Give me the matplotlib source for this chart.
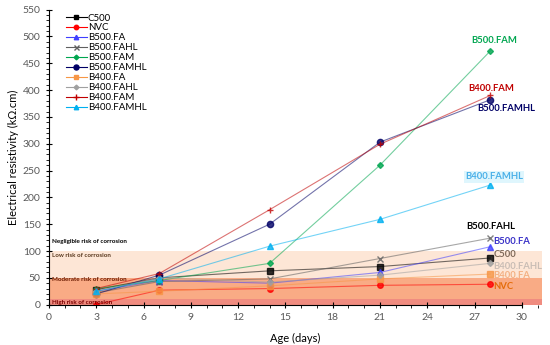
import numpy as np
import matplotlib
matplotlib.use("Agg")
import matplotlib.pyplot as plt
from matplotlib.ticker import MultipleLocator

plt.rcParams['font.family'] = ['Lato', 'DejaVu Sans']

# --- data ------------------------------------------------------------------
age = [3, 7, 14, 21, 28]

c500 = [28, 50, 63, 71, 87]
nvc = [0, 27, 30, 36, 38]
b500_fa = [25, 45, 40, 60, 108]
b500_fahl = [22, 43, 48, 86, 124]
b500_fam = [30, 45, 77, 260, 473]
b500_famhl = [20, 55, 150, 303, 382]
b400_fa = [20, 25, 35, 48, 57]
b400_fahl = [25, 50, 42, 55, 77]
b400_fam = [30, 58, 177, 299, 390]
b400_famhl = [25, 48, 109, 159, 223]

names = ["C500", "NVC", "B500.FA", "B500.FAHL", "B500.FAM", "B500.FAMHL",
         "B400.FA", "B400.FAHL", "B400.FAM", "B400.FAMHL"]
series = [c500, nvc, b500_fa, b500_fahl, b500_fam, b500_famhl,
          b400_fa, b400_fahl, b400_fam, b400_famhl]

# corrosion-risk bands (kOhm.cm)
band_edges = [0, 10, 50, 100]
band_names = ["High risk of corrosion", "Moderate risk of corrosion",
              "Low risk of corrosion", "Negligible risk of corrosion"]

# --- styles ----------------------------------------------------------------
line_col = ["#000000", "#ff0000", "#4040ff", "#606060", "#00a650", "#000066",
            "#f79646", "#a0a0a0", "#c00000", "#00b0f0"]
markers = ["s", "o", "^", "x", "D", "o", "s", "D", "+", "^"]
msize = [4, 4, 4, 4.5, 3, 4.5, 4, 3, 5, 4]
label_col = ["#7f6a5a", "#e46c0a", "#3a32c8", "#000000", "#00a650", "#000066",
             "#f4b183", "#c9bdb5", "#c00000", "#4ab0e8"]
label_xy = [(28.2, 94), (28.2, 33), (28.2, 117), (26.5, 145), (26.8, 493),
            (27.2, 365), (28.2, 54), (28.2, 72), (26.6, 403), (26.4, 238)]
label_bg = [None, None, None, None, None, None, None, None, None, "#dff6fd"]

band_cols = ["#f08c80", "#f9ab85", "#fde6d6"]
band_txt_col = ["#7a0000", "#6a1a00", "#5a3a20", "#000000"]
band_txt_y = [4, 46, 92, 118]

fig = plt.figure(figsize=(5.5, 3.45), dpi=100)
ax = fig.add_axes([0.089, 0.117, 0.897, 0.855])

for i in range(3):
    ax.axhspan(band_edges[i], band_edges[i + 1], xmin=0, xmax=1,
               color=band_cols[i], lw=0, zorder=0)
for i in range(4):
    ax.text(0.2, band_txt_y[i], band_names[i], fontsize=4.5,
            color=band_txt_col[i], fontweight="bold", va="center", zorder=3)

for i in range(len(names)):
    ax.plot(age, series[i], color=line_col[i], lw=0.8, alpha=0.55,
            zorder=2)
    ax.plot(age, series[i], ls="none", marker=markers[i], ms=msize[i],
            color=line_col[i], mec=line_col[i], alpha=0.8, zorder=2)
    ax.plot([], [], color=line_col[i], lw=0.8, marker=markers[i],
            ms=msize[i] * 0.8, label=names[i])
    bbox = None
    if label_bg[i]:
        bbox = dict(facecolor=label_bg[i], edgecolor="none", pad=1)
    ax.text(label_xy[i][0], label_xy[i][1], names[i], fontsize=6.8,
            fontweight="bold", color=label_col[i], va="center", ha="left",
            bbox=bbox, zorder=4)

ax.set_xlim(0, 31.3)
ax.set_ylim(0, 550)
ax.spines['bottom'].set_bounds(0, 30)
ax.spines['top'].set_visible(False)
ax.spines['right'].set_visible(False)
ax.set_xticks(np.arange(0, 31, 3))
ax.set_yticks(np.arange(0, 551, 50))
ax.xaxis.set_minor_locator(MultipleLocator(1))
ax.yaxis.set_minor_locator(MultipleLocator(10))
ax.tick_params(which="major", direction="inout", length=5, width=0.8,
               labelsize=7.5, labelcolor="#595959")
ax.tick_params(which="minor", direction="out", length=2, width=0.6)

ax.set_xlabel("Age (days)", fontsize=8, labelpad=8)
ax.set_ylabel("Electrical resistivity (k\u03a9.cm)", fontsize=8, labelpad=3)

ax.legend(loc="upper left", bbox_to_anchor=(0.02, 1.01), frameon=False,
          fontsize=7, handlelength=2.2, labelspacing=0.1,
          handletextpad=0.1, borderpad=0.2)

fig.savefig("out.png", dpi=100)
